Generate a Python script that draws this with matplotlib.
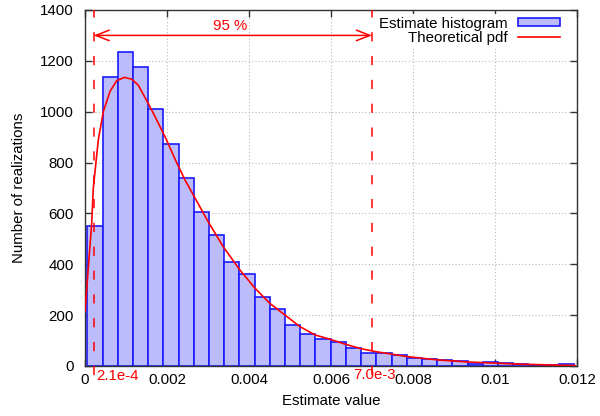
import numpy as np
import matplotlib
matplotlib.use('Agg')
import matplotlib.pyplot as plt

plt.rcParams['font.family'] = ['Liberation Sans', 'DejaVu Sans']
plt.rcParams['font.size'] = 10.8

# histogram of the estimate (32 equal bins)
bin_start = 0.000056
bin_width = 0.000371
counts = [550, 1135, 1236, 1177, 1010, 872, 741, 606, 514, 409, 360, 270,
          225, 161, 127, 105, 96, 72, 50, 50, 42, 33, 29, 22,
          20, 8, 14, 12, 6, 4, 2, 9]

# theoretical pdf
pdf_x = [0.0, 0.000163, 0.000202, 0.000324, 0.000446, 0.00061, 0.000773,
         0.000959, 0.00114, 0.0013, 0.00154, 0.00171, 0.00195, 0.0022,
         0.00244, 0.00298, 0.00337, 0.00378, 0.00415, 0.00451, 0.00488,
         0.00524, 0.00561, 0.00598, 0.00634, 0.00671, 0.00707, 0.0075,
         0.00785, 0.0086, 0.00931, 0.01045, 0.01159, 0.01195]
pdf_y = [215, 562, 700, 889, 1000, 1080, 1122, 1135, 1128, 1104, 1033, 980,
         902, 812, 731, 574, 469, 377, 305, 246, 200, 155, 122, 105, 86, 69,
         57, 46, 37, 24, 16, 8, 3, 2]

# 95 % interval
lo, hi = 2.1e-4, 7.0e-3
lo_label, hi_label = '2.1e-4', '7.0e-3'

xticks = [0, 0.002, 0.004, 0.006, 0.008, 0.01, 0.012]
xtick_labels = ['0', '0.002', '0.004', '0.006', '0.008', '0.01', '0.012']
yticks = [0, 200, 400, 600, 800, 1000, 1200, 1400]

fig = plt.figure(figsize=(6, 4.16), dpi=100)
ax = fig.add_axes([0.1417, 0.1202, 0.82, 0.8558])

edges = bin_start + bin_width * np.arange(len(counts))
bars = ax.bar(edges, counts, width=bin_width, align='edge',
              facecolor='#bcbcfa', edgecolor='#1a1aff', linewidth=1.2,
              label='Estimate histogram', zorder=2)
line, = ax.plot(pdf_x, pdf_y, color='#ff0000', lw=1.2,
                label='Theoretical pdf', zorder=3)

for xv in (lo, hi):
    ax.plot([xv, xv], [-35, 1400], color='#ff0000', lw=1.1,
            linestyle=(0, (6, 9.6)), clip_on=False, zorder=4)

ax.annotate('', xy=(lo, 1300), xytext=(hi, 1300),
            arrowprops=dict(arrowstyle='<->,head_length=0.9,head_width=0.35',
                            color='#ff0000', lw=1.1, shrinkA=0, shrinkB=0),
            zorder=4)
ax.text((lo + hi) / 2 - 0.00006, 1336, '95 %', color='#ff0000',
        ha='center', va='center')
ax.text(lo + 0.00006, -40, lo_label, color='#ff0000', ha='left',
        va='center', clip_on=False)
ax.text(hi + 0.00005, -36, hi_label, color='#ff0000', ha='center',
        va='center', clip_on=False)

ax.set_xlim(0, 0.012)
ax.set_ylim(0, 1400)
ax.set_xticks(xticks)
ax.set_xticklabels(xtick_labels)
ax.set_yticks(yticks)
ax.tick_params(direction='in', length=5, width=1, top=True, right=True,
               color='#333333')
ax.tick_params(axis='x', pad=5)
ax.tick_params(axis='y', pad=8)
ax.grid(True, color='#b8b8b8', linestyle=(0, (1, 2)), lw=0.8, zorder=0)
ax.set_axisbelow(True)
for s in ax.spines.values():
    s.set_color('#333333')
    s.set_linewidth(1)

ax.set_xlabel('Estimate value', labelpad=5)
ax.set_ylabel('Number of realizations', labelpad=10)

leg = ax.legend([bars, line], ['Estimate histogram', 'Theoretical pdf'],
                loc='upper right', bbox_to_anchor=(0.9715, 0.99),
                markerfirst=False, frameon=True, fancybox=False,
                borderaxespad=0, borderpad=0.2, labelspacing=0.0,
                handlelength=2.8, handleheight=0.5, handletextpad=0.67)
leg.get_frame().set_edgecolor('none')
leg.get_frame().set_facecolor('white')
leg.get_frame().set_alpha(1)
leg._legend_box.align = 'right'

fig.savefig('out.png', dpi=100)
